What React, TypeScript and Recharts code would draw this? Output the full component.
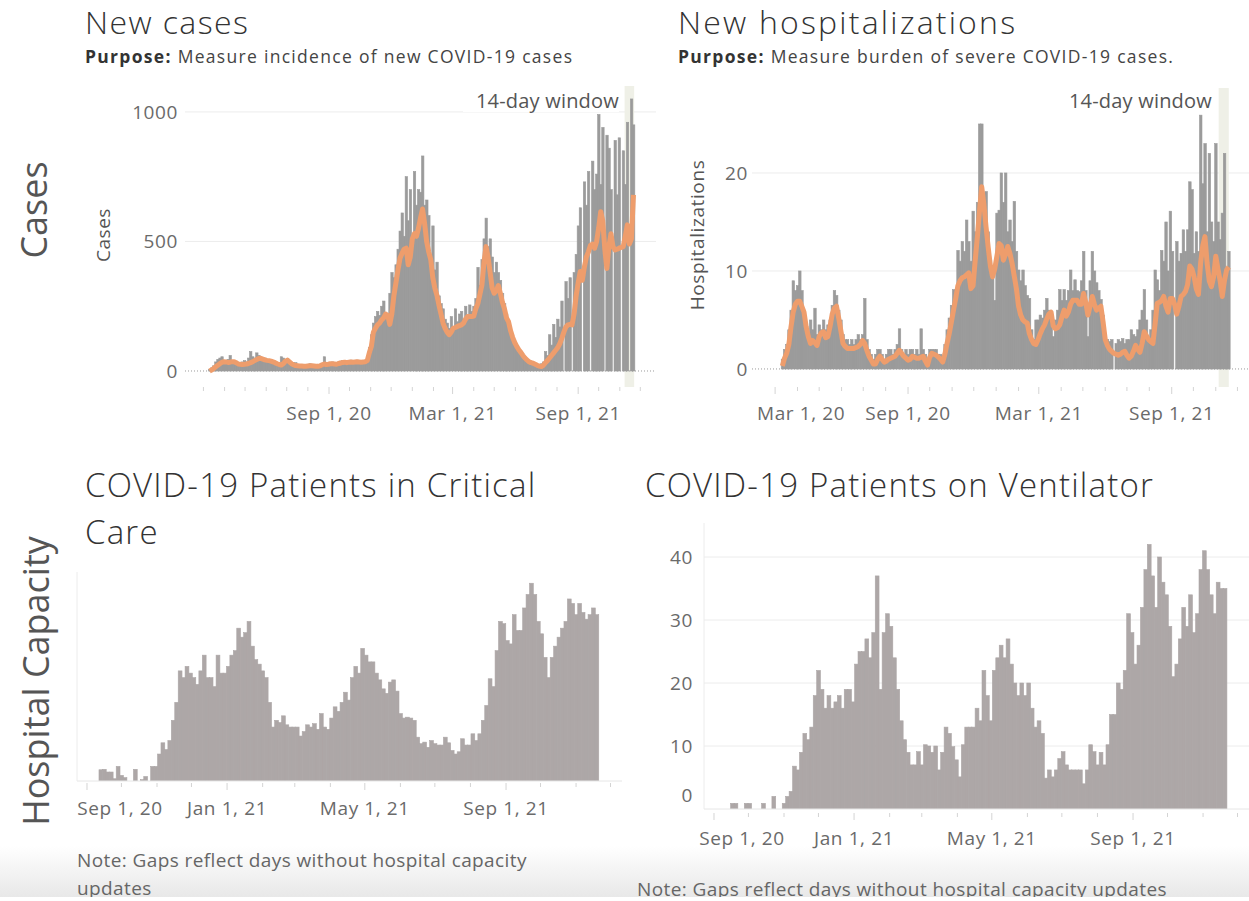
import React from 'react'
import {
  Bar,
  CartesianGrid,
  ComposedChart,
  Line,
  ReferenceArea,
  ReferenceLine,
  XAxis,
  YAxis,
} from 'recharts'

const FONT = "'Open Sans', 'Noto Sans', sans-serif"
const STEP = 3 // days per bar; day 0 = Mar 1, 2020

// New cases (bars) and the 7-day average line, from day 9, every 3 days
const CASES_START = 9
const casesBars = [
  5, 12, 20, 35, 45, 50, 55, 40, 35, 45,
  60, 40, 30, 35, 30, 28, 35, 40, 35, 50,
  75, 55, 50, 70, 60, 45, 45, 50, 40, 38,
  40, 38, 35, 30, 28, 55, 50, 45, 48, 38,
  30, 28, 32, 25, 22, 24, 20, 22, 26, 28,
  24, 22, 20, 26, 25, 30, 55, 28, 30, 32,
  35, 30, 32, 35, 38, 40, 38, 36, 40, 42,
  38, 40, 42, 40, 38, 40, 42, 45, 90, 140,
  185, 210, 230, 215, 250, 270, 220, 200, 300, 380,
  360, 410, 470, 540, 610, 520, 750, 580, 700, 480,
  770, 640, 700, 690, 830, 640, 660, 600, 420, 560,
  390, 420, 290, 260, 240, 200, 185, 165, 210, 170,
  240, 190, 220, 230, 200, 250, 215, 255, 230, 250,
  280, 400, 330, 430, 510, 590, 480, 510, 440, 380,
  420, 380, 350, 300, 260, 220, 180, 150, 125, 110,
  95, 80, 65, 55, 48, 42, 35, 32, 28, 26,
  24, 20, 28, 35, 75, 60, 140, 100, 180, 130,
  200, 170, 270, 0, 345, 280, 360, 0, 380, 450,
  560, 630, 0, 730, 640, 770, 0, 810, 700, 760,
  990, 720, 940, 0, 910, 860, 700, 0, 890, 680,
  900, 0, 850, 720, 960, 0, 1050, 950,
]
const casesAvg = [
  0, 4, 10, 16, 22, 28, 33, 36, 35, 33,
  34, 36, 36, 32, 27, 26, 25, 26, 27, 29,
  32, 36, 40, 44, 48, 49, 46, 43, 41, 40,
  38, 35, 32, 28, 25, 23, 28, 38, 42, 35,
  28, 24, 21, 20, 19, 19, 18, 18, 19, 20,
  20, 19, 18, 18, 20, 24, 27, 25, 26, 28,
  28, 27, 26, 29, 31, 33, 34, 32, 34, 35,
  34, 35, 36, 35, 34, 35, 36, 40, 70, 95,
  150, 165, 178, 185, 197, 205, 220, 215, 180, 220,
  290, 340, 390, 435, 455, 470, 474, 410, 440, 510,
  530, 520, 550, 590, 625, 570, 500, 460, 430, 360,
  320, 293, 255, 220, 185, 165, 150, 140, 150, 165,
  168, 172, 175, 178, 185, 200, 210, 210, 210, 212,
  240, 260, 295, 332, 420, 480, 440, 380, 320, 300,
  310, 330, 300, 265, 240, 205, 190, 155, 130, 110,
  95, 82, 72, 60, 50, 42, 36, 32, 30, 26,
  22, 19, 17, 22, 32, 40, 50, 60, 70, 80,
  90, 105, 126, 150, 170, 178, 180, 178, 220, 290,
  340, 384, 350, 400, 440, 460, 485, 490, 474, 500,
  551, 615, 580, 470, 396, 480, 530, 480, 467, 470,
  474, 477, 480, 520, 564, 490, 510, 680,
]

// New hospitalizations (bars) and average line, from day 10, every 3 days
const HOSP_START = 10
const hospBars = [
  1, 2, 2.5, 4, 6, 9, 8, 8.5, 10, 8,
  6, 4.5, 3.5, 5, 4, 6.2, 3.5, 4.5, 4, 5,
  4, 4.5, 5, 6.5, 8, 7.5, 6, 5, 3.5, 3,
  3, 2.5, 3, 2.5, 3, 3.5, 3, 3.5, 7.2, 3,
  2, 1.5, 1, 1.5, 2, 2, 1.5, 1, 1.5, 2,
  2, 1.5, 2, 2.5, 4.1, 2, 1.5, 2, 1.5, 2,
  2, 1.5, 2, 1.5, 4.1, 2, 1.5, 1, 2, 2,
  2, 2, 1.5, 1.5, 1, 2.5, 4, 5.2, 6.5, 8.1,
  8, 12.1, 11, 13, 12, 15.2, 13, 11, 16.1, 14,
  17, 25, 25, 16.2, 18.1, 14, 11.1, 10, 7, 15.9,
  16.2, 20, 17, 20, 14, 15.2, 13, 17.1, 12, 10.1,
  9, 10.1, 8.5, 7.5, 7.2, 4, 3, 5, 5, 5.5,
  5.2, 6, 7.2, 6, 5, 3.3, 5, 6, 8.1, 7,
  8.1, 7, 8, 10.1, 8, 9.1, 8, 7.9, 9, 12,
  8, 3.3, 9, 12, 10, 8.8, 8, 7.1, 5.5, 3.3,
  3, 2.8, 3, 0, 2.6, 3, 2.8, 3.1, 2.6, 3,
  3, 4, 3.5, 3.3, 4, 5, 6, 8.1, 5, 3,
  4, 6, 10.1, 9.1, 8, 12.1, 11, 15, 10, 16.1,
  12, 0, 13, 11, 11.8, 14.2, 12, 14.2, 19.1, 18.3,
  11.8, 14, 12, 25.9, 18.9, 23, 14, 22, 15, 13,
  23, 15, 13.2, 15.9, 22, 10.1, 12,
]
const hospAvg = [
  0.3, 1.1, 1.6, 2.5, 4.3, 5.8, 6.6, 6.9, 6.9, 6.4,
  5.8, 4.3, 3.3, 2.6, 2.9, 2.7, 2.4, 3.3, 3.7, 3.8,
  3.2, 3.3, 4.3, 5.6, 6.2, 6.4, 5.2, 3.9, 2.6, 2.3,
  2.1, 2.1, 2.1, 2.1, 2.2, 2.3, 2.5, 2.9, 2.6, 1.9,
  1.3, 0.9, 0.5, 0.5, 1.0, 1.3, 1.0, 0.7, 0.8, 1.0,
  1.1, 1.2, 1.3, 1.6, 1.9, 1.6, 1.3, 1.1, 0.9, 1.0,
  1.3, 1.2, 1.1, 1.1, 1.2, 1.3, 0.8, 0.4, 1.2, 1.6,
  1.5, 1.4, 1.2, 1.0, 0.7, 1.5, 2.6, 3.6, 4.8, 6.0,
  7.2, 8.5, 9.0, 9.3, 9.4, 9.6, 9.8, 8.2, 8.5, 11.1,
  13.5, 16.2, 18.6, 16.8, 14.5, 12.4, 10.5, 9.4, 10.2, 11.5,
  12.8, 12.6, 11.1, 11.7, 12.5, 11.8, 10.8, 9.5, 8.2, 6.4,
  5.5, 5.0, 4.8, 4.7, 3.6, 3.0, 2.6, 2.5, 3.0, 3.6,
  4.1, 4.5, 5.1, 5.6, 5.8, 4.4, 4.1, 4.2, 4.5, 5.3,
  6.0, 5.4, 5.8, 6.6, 7.0, 7.0, 7.0, 6.6, 6.6, 7.7,
  6.8, 5.5, 6.4, 7.4, 6.6, 6.0, 6.2, 6.4, 4.8, 3.0,
  2.4, 2.0, 1.8, 1.6, 1.5, 1.4, 1.5, 1.7, 1.8, 1.4,
  1.1, 1.3, 1.8, 2.4, 2.0, 1.7, 2.6, 3.8, 3.4, 3.0,
  2.8, 2.6, 4.6, 6.7, 6.8, 7.0, 7.4, 6.4, 5.8, 7.2,
  7.2, 6.6, 5.6, 6.4, 7.4, 7.6, 7.9, 8.6, 10.5, 10.2,
  9.4, 8.2, 7.6, 10.8, 12.6, 13.5, 10.8, 9.0, 8.4, 9.4,
  11.5, 10.2, 9.0, 7.4, 9.0, 10.1, 10.4,
]

// COVID-19 patients in critical care, from day 196, every 3 days (null = no update)
const ICU_START = 196
const icuBars = [
  5, 5.2, 4, 4, 1, 6.5, 2.5, 1.5, null, null,
  5.2, null, 0.6, 2, null, 6.5, 6.5, 12, 17, 14,
  18, 27, 35, 49, 46, 51, 48, 46, 43, 49,
  56, 46, 46, 42, 56, 48, 48, 51, 56, 58,
  68, 64, 66, 71, 60, 54, 52, 49, 46, 35,
  24, 27, 26, 29, 25, 24, 24, 24, 20, 22,
  25, 24, 25.5, 23, 30, 24, 23, 28, 33, 31,
  35, 39.5, 36, 46, 51, 48, 59, 56, 53, 53,
  48, 45, 41, 39, 44, 45, 40, 30, 28, 28.4,
  28, 27, 19.5, 16.6, 17.3, 15, 18, 16.6, 16, 16,
  19.5, 17, 13.6, 12, 13, 18.8, 16, 16, 21, 18,
  21, 27, 33.6, 45.5, 42, 58, 71, 70, 62.5, 61,
  74, 67, 67, 77, 83, 88, 83, 71, 65.5, 55,
  46, 55, 60, 64, 68, 71, 81, 79, 74, 79,
  75, 72, 74, 77, 74,
]

// COVID-19 patients on ventilator, from day 200, every 3 days (null = no update)
const VENT_START = 200
const ventBars = [
  0.9, 0.9, null, null, 0.9, 0.9, null, null, null, 0.9,
  null, null, 2, null, null, 0.9, 2, 2.8, 6.8, 6.2,
  9, 12, 11, 13, 18, 22, 19, 16, 18, 16,
  17, 18, 16, 19, 19, 17, 23, 25, 25, 27,
  24, 28, 37, 19, 28, 31, 29, 24, 19, 14,
  11, 9, 7, 7, 9.1, 7, 10.2, 10, 9, 10,
  6.2, 9, 13, 12, 9.9, 7.8, 5.1, 10.2, 13, 13,
  13, 16, 14, 22, 18, 14, 22, 24, 26, 24,
  27, 23, 20, 18, 20, 18, 20, 16, 13, 14,
  12, 4.9, 6.2, 5.1, 6.2, 8, 9.1, 7, 6.2, 6.2,
  6.2, 6.2, 4, 6.2, 10.2, 9.1, 7, 9, 7, 10.2,
  15, 15, 20, 19, 22, 31, 28, 23, 26, 32,
  38, 42, 37, 32, 40, 36, 34, 29, 21, 23,
  27, 32, 29, 34, 28, 31, 38, 41, 38, 34,
  31, 36, 35, 35,
]

// month starts as day offsets, and the dated tick labels
const MONTHS_TOP = [0, 31, 61, 92, 122, 153, 184, 214, 245, 275, 306, 337, 365, 396, 426, 457, 487, 518, 549, 579, 610, 640]
const MONTHS_BOTTOM = [184, 214, 245, 275, 306, 337, 365, 396, 426, 457, 487, 518, 549, 579, 610, 640]
const CASES_LABELS = [
  { day: 184, text: 'Sep 1, 20' },
  { day: 365, text: 'Mar 1, 21' },
  { day: 549, text: 'Sep 1, 21' },
]
const HOSP_LABELS = [{ day: 0, text: 'Mar 1, 20', dx: 26 }, ...CASES_LABELS]
const ICU_LABELS = [
  { day: 184, text: 'Sep 1, 20', dx: 33 },
  { day: 306, text: 'Jan 1, 21' },
  { day: 426, text: 'May 1, 21' },
  { day: 549, text: 'Sep 1, 21' },
]
const VENT_LABELS = ICU_LABELS.map((l) => (l.day === 184 ? { ...l, dx: 28 } : l))

const GRAY = '#9b9b9b'
const WARM_GRAY = '#ada7a7'
const ORANGE = '#ee9d6c'
const BAND = '#eff0e7'
const TICK_TEXT = '#6a6a6a'

type Label = { day: number; text: string; dx?: number }

function table(start: number, bars: (number | null)[], avg?: number[]) {
  return bars.map((v, i) => ({ day: start + STEP * i, value: v, avg: avg ? avg[i] : undefined }))
}

// bars centred on their day, drawn a touch wider than the step so they read as one fill
function wideBar(w: number) {
  return (props: any) => {
    const { x, y, width, height, fill } = props
    if (!height || height <= 0) return <g />
    const cx = x + width / 2
    return (
      <rect
        x={cx - w / 2}
        y={y}
        width={w}
        height={height}
        fill={fill}
        stroke={fill}
        strokeWidth={0.6}
      />
    )
  }
}

function dateTick(labels: Label[], gap: number, labelDy: number) {
  return (props: any) => {
    const { x, y, payload } = props
    const lab = labels.find((l) => l.day === payload.value)
    return (
      <g>
        <line x1={x} x2={x} y1={y + gap} y2={y + gap + (lab ? 7 : 4)} stroke="#d4d4d4" />
        {lab && (
          <text
            x={x + (lab.dx ?? 0)}
            y={y + labelDy}
            textAnchor="middle"
            dominantBaseline="central"
            fill={TICK_TEXT}
            fontSize={19}
            fontFamily={FONT}
            letterSpacing={0.6}
          >
            {lab.text}
          </text>
        )}
      </g>
    )
  }
}

function valueTick(zeroShift = 0) {
  return (props: any) => {
    const { x, y, payload } = props
    return (
      <text
        x={x}
        y={y + (payload.value === 0 ? zeroShift : 0)}
        textAnchor="end"
        dominantBaseline="central"
        fill={TICK_TEXT}
        fontSize={19}
        fontFamily={FONT}
        letterSpacing={0.6}
      >
        {payload.value}
      </text>
    )
  }
}

function Text({ left, top, size, color = '#333', weight = 400, ls = 0, lh, children }: any) {
  return (
    <div
      style={{
        position: 'absolute',
        left,
        top,
        fontSize: size,
        fontWeight: weight,
        color,
        letterSpacing: ls,
        lineHeight: `${lh ?? size}px`,
        whiteSpace: 'nowrap',
        fontFamily: FONT,
      }}
    >
      {children}
    </div>
  )
}

function Rotated({ cx, cy, size, color = '#555', ls = 0, children }: any) {
  return (
    <div
      style={{
        position: 'absolute',
        left: cx,
        top: cy,
        transform: 'translate(-50%, -50%) rotate(-90deg)',
        fontSize: size,
        lineHeight: `${size}px`,
        color,
        letterSpacing: ls,
        whiteSpace: 'nowrap',
        fontFamily: FONT,
      }}
    >
      {children}
    </div>
  )
}

function WindowLabel({ right, top }: { right: number; top: number }) {
  return (
    <div
      style={{
        position: 'absolute',
        left: right - 156,
        top,
        width: 156,
        height: 23,
        background: '#fff',
        textAlign: 'right',
        fontSize: 20,
        lineHeight: '23px',
        color: '#555',
        letterSpacing: 0.2,
        fontFamily: FONT,
        whiteSpace: 'nowrap',
      }}
    >
      14-day window
    </div>
  )
}

const casesData = table(CASES_START, casesBars, casesAvg)
const hospData = table(HOSP_START, hospBars, hospAvg)
const icuData = table(ICU_START, icuBars)
const ventData = table(VENT_START, ventBars)

const noMargin = { top: 0, right: 0, bottom: 0, left: 0 }

export default function App() {
  return (
    <div style={{ position: 'absolute', left: 0, top: 0, width: 1249, height: 901, background: '#fff', overflow: 'hidden' }}>
      <div style={{ position: 'absolute', left: 0, top: 0, width: 1249, height: 897, overflow: 'hidden' }}>
        {/* bottom fade */}
        <div
          style={{
            position: 'absolute',
            left: 0,
            top: 846,
            width: 1249,
            height: 51,
            background: 'linear-gradient(to bottom, rgba(236,236,236,0), rgba(232,232,232,1))',
          }}
        />

        {/* titles */}
        <Text left={85} top={6} size={32} weight={300} ls={1.4}>New cases</Text>
        <Text left={85} top={48} size={17.5} color="#444" ls={1.3}>
          <b style={{ color: '#333' }}>Purpose:</b> Measure incidence of new COVID-19 cases
        </Text>
        <Text left={678} top={6} size={32} weight={300} ls={2.2}>New hospitalizations</Text>
        <Text left={678} top={48} size={17.5} color="#444" ls={1.3}>
          <b style={{ color: '#333' }}>Purpose:</b> Measure burden of severe COVID-19 cases.
        </Text>
        <Text left={85} top={462} size={33} weight={300} ls={1.2} lh={46.7}>
          COVID-19 Patients in Critical
          <br />
          Care
        </Text>
        <Text left={645} top={462} size={33} weight={300} ls={1.2} lh={46.7}>COVID-19 Patients on Ventilator</Text>

        <Rotated cx={34} cy={210} size={36}>Cases</Rotated>
        <Rotated cx={36} cy={681} size={36}>Hospital Capacity</Rotated>
        <Rotated cx={103} cy={235} size={19} ls={0.5}>Cases</Rotated>
        <Rotated cx={697} cy={235} size={19} ls={0.6}>Hospitalizations</Rotated>

        {/* New cases */}
        <div style={{ position: 'absolute', left: 125, top: 86 }}>
          <ComposedChart width={531} height={351} data={casesData} margin={noMargin}>
            <CartesianGrid vertical={false} horizontalValues={[500, 1000]} stroke="#ececec" />
            <ReferenceArea x1={617} x2={631} fill={BAND} fillOpacity={1} strokeOpacity={0} />
            <XAxis
              type="number"
              dataKey="day"
              domain={[-27, 663]}
              ticks={MONTHS_TOP}
              interval={0}
              tick={dateTick(CASES_LABELS, 0, 26)}
              tickLine={false}
              axisLine={false}
              tickSize={0}
              tickMargin={0}
              height={50}
              allowDataOverflow
            />
            <YAxis
              type="number"
              domain={[-61.8, 1100]}
              ticks={[0, 500, 1000]}
              tick={valueTick()}
              tickLine={false}
              axisLine={false}
              tickSize={0}
              tickMargin={7}
              width={60}
              allowDataOverflow
            />
            <ReferenceLine y={0} stroke="#9a9a9a" strokeDasharray="1 2" />
            <Bar dataKey="value" fill={GRAY} shape={wideBar(2.4)} isAnimationActive={false} />
            <Line
              dataKey="avg"
              type="linear"
              stroke={ORANGE}
              strokeWidth={5}
              strokeLinejoin="round"
              dot={false}
              isAnimationActive={false}
            />
          </ComposedChart>
        </div>
        <WindowLabel right={619} top={89} />

        {/* New hospitalizations */}
        <div style={{ position: 'absolute', left: 692, top: 88 }}>
          <ComposedChart width={557} height={349} data={hospData} margin={noMargin}>
            <CartesianGrid vertical={false} horizontalValues={[10, 20]} stroke="#ececec" />
            <ReferenceArea x1={614} x2={628} fill={BAND} fillOpacity={1} strokeOpacity={0} />
            <XAxis
              type="number"
              dataKey="day"
              domain={[-32, 656]}
              ticks={MONTHS_TOP}
              interval={0}
              tick={dateTick(HOSP_LABELS, 0, 26)}
              tickLine={false}
              axisLine={false}
              tickSize={0}
              tickMargin={0}
              height={50}
              allowDataOverflow
            />
            <YAxis
              type="number"
              domain={[-1.84, 28.67]}
              ticks={[0, 10, 20]}
              tick={valueTick()}
              tickLine={false}
              axisLine={false}
              tickSize={0}
              tickMargin={4}
              width={60}
              allowDataOverflow
            />
            <ReferenceLine y={0} stroke="#9a9a9a" strokeDasharray="1 2" />
            <Bar dataKey="value" fill={GRAY} shape={wideBar(2.5)} isAnimationActive={false} />
            <Line
              dataKey="avg"
              type="linear"
              stroke={ORANGE}
              strokeWidth={5}
              strokeLinejoin="round"
              dot={false}
              isAnimationActive={false}
            />
          </ComposedChart>
        </div>
        <WindowLabel right={1212} top={89} />

        {/* Critical care */}
        <div style={{ position: 'absolute', left: 67, top: 572 }}>
          <ComposedChart width={555} height={259} data={icuData} margin={noMargin}>
            <CartesianGrid vertical={false} horizontalValues={[20, 40, 60, 80]} stroke="#ececec" />
            <XAxis
              type="number"
              dataKey="day"
              domain={[175.3, 650]}
              ticks={MONTHS_BOTTOM}
              interval={0}
              tick={dateTick(ICU_LABELS, 2, 27)}
              tickLine={false}
              axisLine={{ stroke: '#e6e6e6' }}
              tickSize={0}
              tickMargin={0}
              height={50}
              allowDataOverflow
            />
            <YAxis
              type="number"
              domain={[0, 93]}
              ticks={[0, 20, 40, 60, 80]}
              tick={false}
              tickLine={false}
              axisLine={{ stroke: '#ececec' }}
              width={10}
              allowDataOverflow
            />
            <Bar dataKey="value" fill={WARM_GRAY} shape={wideBar(3.8)} isAnimationActive={false} />
          </ComposedChart>
        </div>

        {/* Ventilator */}
        <div style={{ position: 'absolute', left: 644, top: 523 }}>
          <ComposedChart width={605} height={336} data={ventData} margin={noMargin}>
            <CartesianGrid vertical={false} horizontalValues={[10, 20, 30, 40]} stroke="#ececec" />
            <XAxis
              type="number"
              dataKey="day"
              domain={[175.3, 650]}
              ticks={MONTHS_BOTTOM}
              interval={0}
              tick={dateTick(VENT_LABELS, 4, 29)}
              tickLine={false}
              axisLine={{ stroke: '#e6e6e6' }}
              tickSize={0}
              tickMargin={0}
              height={50}
              allowDataOverflow
            />
            <YAxis
              type="number"
              domain={[0, 45.4]}
              ticks={[0, 10, 20, 30, 40]}
              tick={valueTick(-14)}
              tickLine={false}
              axisLine={{ stroke: '#ececec' }}
              tickSize={0}
              tickMargin={11}
              width={60}
              allowDataOverflow
            />
            <Bar dataKey="value" fill={WARM_GRAY} shape={wideBar(3.8)} isAnimationActive={false} />
          </ComposedChart>
        </div>

        {/* notes */}
        <Text left={77} top={846} size={19} color="#666" ls={0.4} lh={28}>
          Note: Gaps reflect days without hospital capacity
          <br />
          updates
        </Text>
        <Text left={637} top={875} size={19} color="#666" ls={0.4} lh={28}>
          Note: Gaps reflect days without hospital capacity updates
        </Text>
      </div>
    </div>
  )
}
